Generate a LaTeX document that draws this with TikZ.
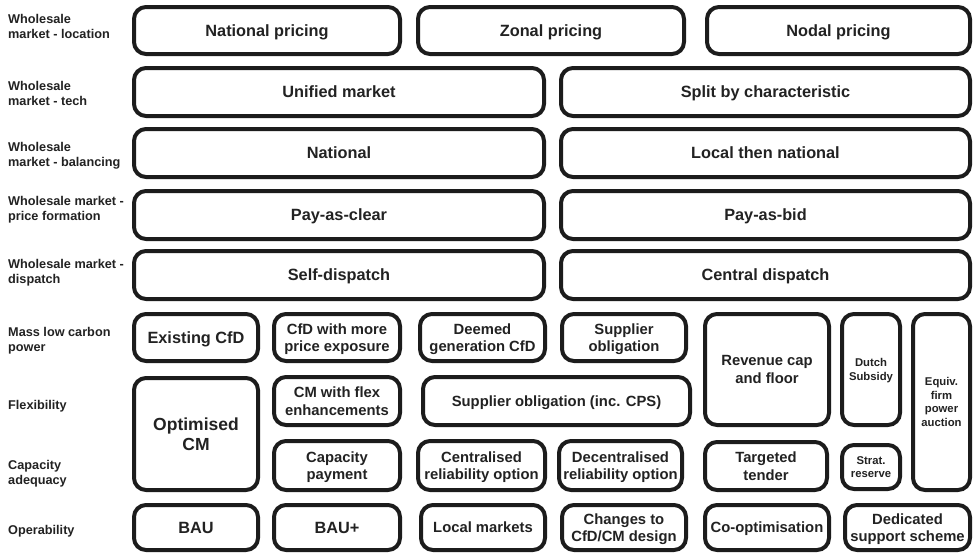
\documentclass[tikz,border=0pt]{standalone}
\usepackage{fontspec}
\setmainfont{Liberation Sans}
\definecolor{ink}{HTML}{1C1C1C}
\definecolor{txt}{HTML}{222222}
\tikzset{
  box/.style={draw=ink, line width=4pt, rounded corners=12pt, fill=white, text=txt, align=center, inner sep=0pt, text depth=0pt},
  big/.style={font=\fontsize{16.3}{19}\selectfont\bfseries},
  xl/.style={font=\fontsize{17.5}{20}\selectfont\bfseries},
  mid/.style={font=\fontsize{14.8}{17.5}\selectfont\bfseries},
  sml/.style={font=\fontsize{11.3}{13.8}\selectfont\bfseries},
  lab/.style={font=\fontsize{12.7}{15}\selectfont\bfseries, text=txt, align=left, anchor=west, inner sep=0pt}
}
\newcommand\bx[7]{%
  \pgfmathsetmacro\bcx{(#2+#4)/2}%
  \pgfmathsetmacro\bcy{(#3+#5)/2}%
  \pgfmathsetmacro\bw{#4-#2-4}%
  \pgfmathsetmacro\bh{#5-#3-4}%
  \node[box, minimum width=\bw pt, minimum height=\bh pt, #6] (#1) at (\bcx,\bcy) {#7};}
\begin{document}
\begin{tikzpicture}[x=1pt,y=-1pt]
\useasboundingbox (0,0) rectangle (978,554);
\fill[white] (0,0) rectangle (978,554);
% row labels
\node[lab] (l1) at (8,26) {Wholesale\\market - location};
\node[lab] (l2) at (8,93) {Wholesale\\market - tech};
\node[lab] (l3) at (8,156) {Wholesale\\market - balancing};
\node[lab] (l4) at (8,210) {Wholesale market -\\price formation};
\node[lab] (l5) at (8,273) {Wholesale market -\\dispatch};
\node[lab] (l6) at (8,341) {Mass low carbon\\power};
\node[lab] (l7) at (8,406) {Flexibility};
\node[lab] (l8) at (8,474) {Capacity\\adequacy};
\node[lab] (l9) at (8,531) {Operability};
% rows 1-5
\bx{natp}{132}{5}{402}{56}{big}{National pricing}
\bx{zonp}{416}{5}{686}{56}{big}{Zonal pricing}
\bx{nodp}{705}{5}{972}{56}{big}{Nodal pricing}
\bx{unif}{132}{66}{546}{118}{big}{Unified market}
\bx{split}{559}{66}{972}{118}{big}{Split by characteristic}
\bx{natb}{132}{127}{546}{179}{big}{National}
\bx{locb}{559}{127}{972}{179}{big}{Local then national}
\bx{pac}{132}{189}{546}{241}{big}{Pay-as-clear}
\bx{pab}{559}{189}{972}{241}{big}{Pay-as-bid}
\bx{selfd}{132}{249}{546}{301}{big}{Self-dispatch}
\bx{centd}{559}{249}{972}{301}{big}{Central dispatch}
% mass low carbon
\bx{ecfd}{132}{312}{260}{363}{big}{Existing CfD}
\bx{cfdpe}{272}{312}{402}{363}{mid}{CfD with more\\price exposure}
\bx{dgcfd}{418}{312}{547}{363}{mid}{Deemed\\generation CfD}
\bx{supo}{560}{312}{688}{363}{mid}{Supplier\\obligation}
\bx{rcf}{703}{312}{831}{427}{mid}{Revenue cap\\and floor}
\bx{dutch}{840}{312}{902}{427}{sml}{Dutch\\Subsidy}
\bx{efpa}{911}{312}{972}{492}{sml}{Equiv.\\firm\\power\\auction}
% flexibility
\bx{ocm}{132}{376}{260}{492}{xl}{Optimised\\CM}
\bx{cmflex}{272}{375}{402}{427}{mid}{CM with flex\\enhancements}
\bx{supcps}{421}{375}{692}{427}{mid}{Supplier obligation (inc. CPS)}
% capacity adequacy
\bx{cpay}{272}{439}{402}{492}{mid}{Capacity\\payment}
\bx{cro}{416}{439}{547}{492}{mid}{Centralised\\reliability option}
\bx{dro}{557}{439}{684}{492}{mid}{Decentralised\\reliability option}
\bx{ttend}{703}{440}{829}{492}{mid}{Targeted\\tender}
\bx{strat}{840}{443}{902}{491}{sml}{Strat.\\reserve}
% operability
\bx{bau}{132}{503}{260}{552}{big}{BAU}
\bx{baup}{272}{503}{402}{552}{big}{BAU+}
\bx{locm}{419}{503}{547}{552}{mid}{Local markets}
\bx{chg}{560}{503}{688}{552}{mid}{Changes to\\CfD/CM design}
\bx{coopt}{703}{503}{831}{552}{mid}{Co-optimisation}
\bx{dss}{843}{503}{972}{552}{mid}{Dedicated\\support scheme}
\end{tikzpicture}
\end{document}
